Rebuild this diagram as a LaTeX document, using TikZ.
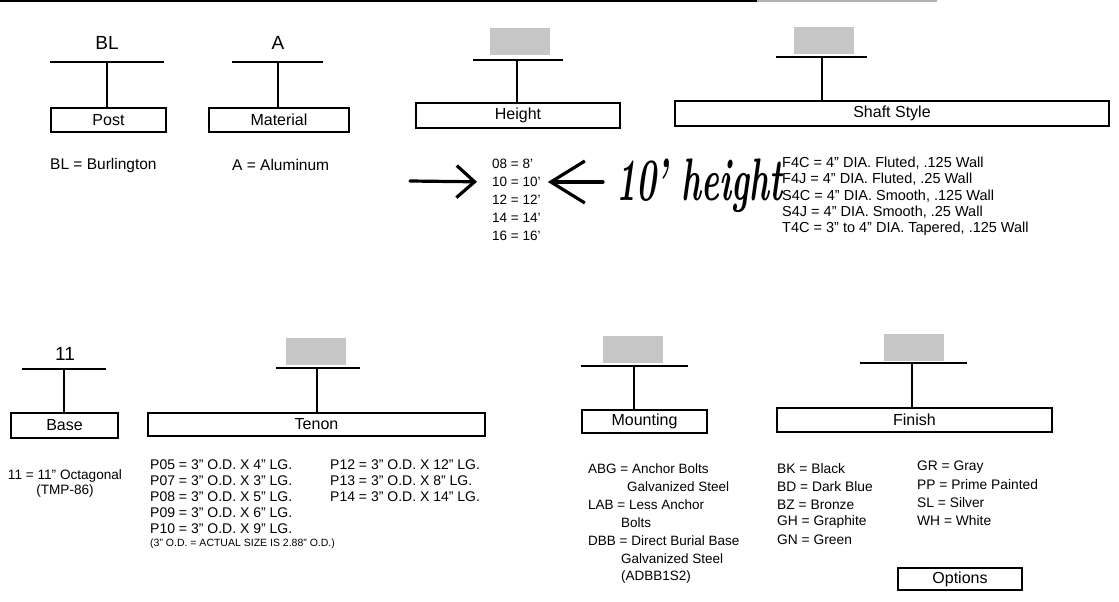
\documentclass[tikz,border=0pt]{standalone}
\usepackage{fontspec}
\setsansfont{Liberation Sans}
\renewcommand{\familydefault}{\sfdefault}
\usepackage{tikz}
\usetikzlibrary{arrows.meta,positioning}

\newcommand{\pxfont}[1]{\fontsize{#1}{#1}\selectfont}

\tikzset{
	fieldbox/.style={draw, line width=1.2pt, inner sep=0pt, font=\pxfont{16}},
	codetext/.style={inner sep=0pt, font=\pxfont{19}},
	codeshade/.style={fill=gray!45, inner sep=0pt, minimum width=60pt, minimum height=27pt},
	keyline/.style={line width=1.8pt},
	stemline/.style={line width=1.4pt},
	item/.style={anchor=west, inner sep=0pt, font=\pxfont{#1}},
	item/.default=14,
	pen/.style={line width=3.2pt, line cap=round, line join=round},
}

\begin{document}
\begin{tikzpicture}[x=1pt, y=-1pt]
			\useasboundingbox (0,0) rectangle (1119,602);
			% Page rule
			\draw[line width=2pt] (0,1) -- (757,1);
			\draw[line width=2pt, gray!60] (757,1) -- (937,1);
			
			% Post
			\node[codetext] (postcode) at (107,43) {BL};
			\coordinate (postkey) at (107,62);
			\node[fieldbox, minimum width=115pt, minimum height=24pt] (post) at (108.5,120) {Post};
			\draw[keyline] ([xshift=-57pt]postkey) -- ([xshift=57pt]postkey);
			\draw[stemline] (postkey) -- (postkey |- post.north);
			\node[item=15.5] (postdesc) at (50,165) {BL = Burlington};
			
			% Material
			\node[codetext] (matcode) at (278,43) {A};
			\coordinate (matkey) at (278,62);
			\node[fieldbox, minimum width=140pt, minimum height=24pt] (material) at (279,120) {Material};
			\draw[keyline] ([xshift=-46pt]matkey) -- ([xshift=45pt]matkey);
			\draw[stemline] (matkey) -- (matkey |- material.north);
			\node[item=15.5] (matdesc) at (232,165) {A = Aluminum};
			
			% Height
			\node[codeshade] (heightcode) at (519.5,41.5) {};
			\coordinate (heightkey) at (517,60);
			\node[fieldbox, minimum width=204pt, minimum height=25pt] (height) at (518,115.5) {Height};
			\draw[keyline] ([xshift=-44pt]heightkey) -- ([xshift=46pt]heightkey);
			\draw[stemline] (heightkey) -- (heightkey |- height.north);
			\foreach \t [count=\i] in {08 = 8', 10 = 10', 12 = 12', 14 = 14', 16 = 16'}
				\node[item=13.5] (h\i) at (492,{164+18*(\i-1)}) {\t};
			
			% Shaft style
			\node[codeshade] (shaftcode) at (824,41) {};
			\coordinate (shaftkey) at (822,57);
			\node[fieldbox, minimum width=434pt, minimum height=25pt] (shaft) at (892,113.5) {Shaft Style};
			\draw[keyline] ([xshift=-46pt]shaftkey) -- ([xshift=45pt]shaftkey);
			\draw[stemline] (shaftkey) -- (shaftkey |- shaft.north);
			\foreach \t [count=\i] in {{F4C = 4" DIA. Fluted, .125 Wall}, {F4J = 4" DIA. Fluted, .25 Wall},
				{S4C = 4" DIA. Smooth, .125 Wall}, {S4J = 4" DIA. Smooth, .25 Wall},
				{T4C = 3" to 4" DIA. Tapered, .125 Wall}}
				\node[item=14.5] (s\i) at (782,{163+16.5*(\i-1)}) {\t};
			
			% Handwritten note
			\node[anchor=base west, inner sep=0pt, font=\rmfamily\bfseries\itshape\pxfont{60}] (scrawl) at (616,200)
				{\scalebox{0.56}[1]{10' height}};
			\coordinate (scrawlstart) at (410,181);
			\draw[pen, -{Straight Barb[length=18pt, width=32pt]}, shorten >=15pt] (scrawlstart) -- (h2.west);
			\draw[pen, -{Straight Barb[length=34pt, width=42pt]}, shorten <=13pt, shorten >=7pt]
				(scrawl.west |- h2.east) -- (h2.east);
			
			% Base
			\node[codetext] (basecode) at (65,354) {11};
			\coordinate (basekey) at (64,369);
			\node[fieldbox, minimum width=107pt, minimum height=25pt] (base) at (64.5,425.5) {Base};
			\draw[keyline] ([xshift=-42pt]basekey) -- ([xshift=42pt]basekey);
			\draw[stemline] (basekey) -- (basekey |- base.north);
			\node[align=center, inner sep=0pt, font=\pxfont{13.6}] (basedesc) at (65,483.5)
				{11 = 11" Octagonal\\[2pt](TMP-86)};
			
			% Tenon
			\node[codeshade] (tenoncode) at (316,351.5) {};
			\coordinate (tenonkey) at (317,368);
			\node[fieldbox, minimum width=337pt, minimum height=23pt] (tenon) at (316.5,424.5) {Tenon};
			\draw[keyline] ([xshift=-41pt]tenonkey) -- ([xshift=43pt]tenonkey);
			\draw[stemline] (tenonkey) -- (tenonkey |- tenon.north);
			\foreach \t [count=\i] in {P05 = 3" O.D. X 4" LG., P07 = 3" O.D. X 3" LG., P08 = 3" O.D. X 5" LG.,
				P09 = 3" O.D. X 6" LG., P10 = 3" O.D. X 9" LG.}
				\node[item=14] (ta\i) at (150,{465+16*(\i-1)}) {\t};
			\foreach \t [count=\i] in {P12 = 3" O.D. X 12" LG., P13 = 3" O.D. X 8" LG., P14 = 3" O.D. X 14" LG.}
				\node[item=14] (tb\i) at (330,{465+16*(\i-1)}) {\t};
			\node[item=10.5] (tenonnote) at (150,544) {(3" O.D. = ACTUAL SIZE IS 2.88" O.D.)};
			
			% Mounting
			\node[codeshade] (mountcode) at (633,349) {};
			\coordinate (mountkey) at (634,366);
			\node[fieldbox, minimum width=125pt, minimum height=23pt] (mounting) at (644.5,421.5) {Mounting};
			\draw[keyline] ([xshift=-53pt]mountkey) -- ([xshift=54pt]mountkey);
			\draw[stemline] (mountkey) -- (mountkey |- mounting.north);
			\foreach \x/\t [count=\i] in {588/ABG = Anchor Bolts, 627/Galvanized Steel, 588/LAB = Less Anchor,
				621/Bolts, 588/DBB = Direct Burial Base, 621/Galvanized Steel, 621/(ADBB1S2)}
				\node[item=13.5] (m\i) at (\x,{469+18*(\i-1)}) {\t};
			
			% Finish
			\node[codeshade] (finishcode) at (913.5,347.5) {};
			\coordinate (finishkey) at (912,363);
			\node[fieldbox, minimum width=275pt, minimum height=24pt] (finish) at (914.5,420) {Finish};
			\draw[keyline] ([xshift=-52pt]finishkey) -- ([xshift=55pt]finishkey);
			\draw[stemline] (finishkey) -- (finishkey |- finish.north);
			\foreach \t [count=\i] in {BK = Black, BD = Dark Blue, BZ = Bronze, GH = Graphite, GN = Green}
				\node[item=13.8] (fa\i) at (777,{469+17.8*(\i-1)}) {\t};
			\foreach \t [count=\i] in {GR = Gray, PP = Prime Painted, SL = Silver, WH = White}
				\node[item=13.8] (fb\i) at (917,{467+17.7*(\i-1)}) {\t};
			
			% Options
			\node[fieldbox, minimum width=124pt, minimum height=22pt] (options) at (960,579) {Options};
		\end{tikzpicture}
\end{document}
